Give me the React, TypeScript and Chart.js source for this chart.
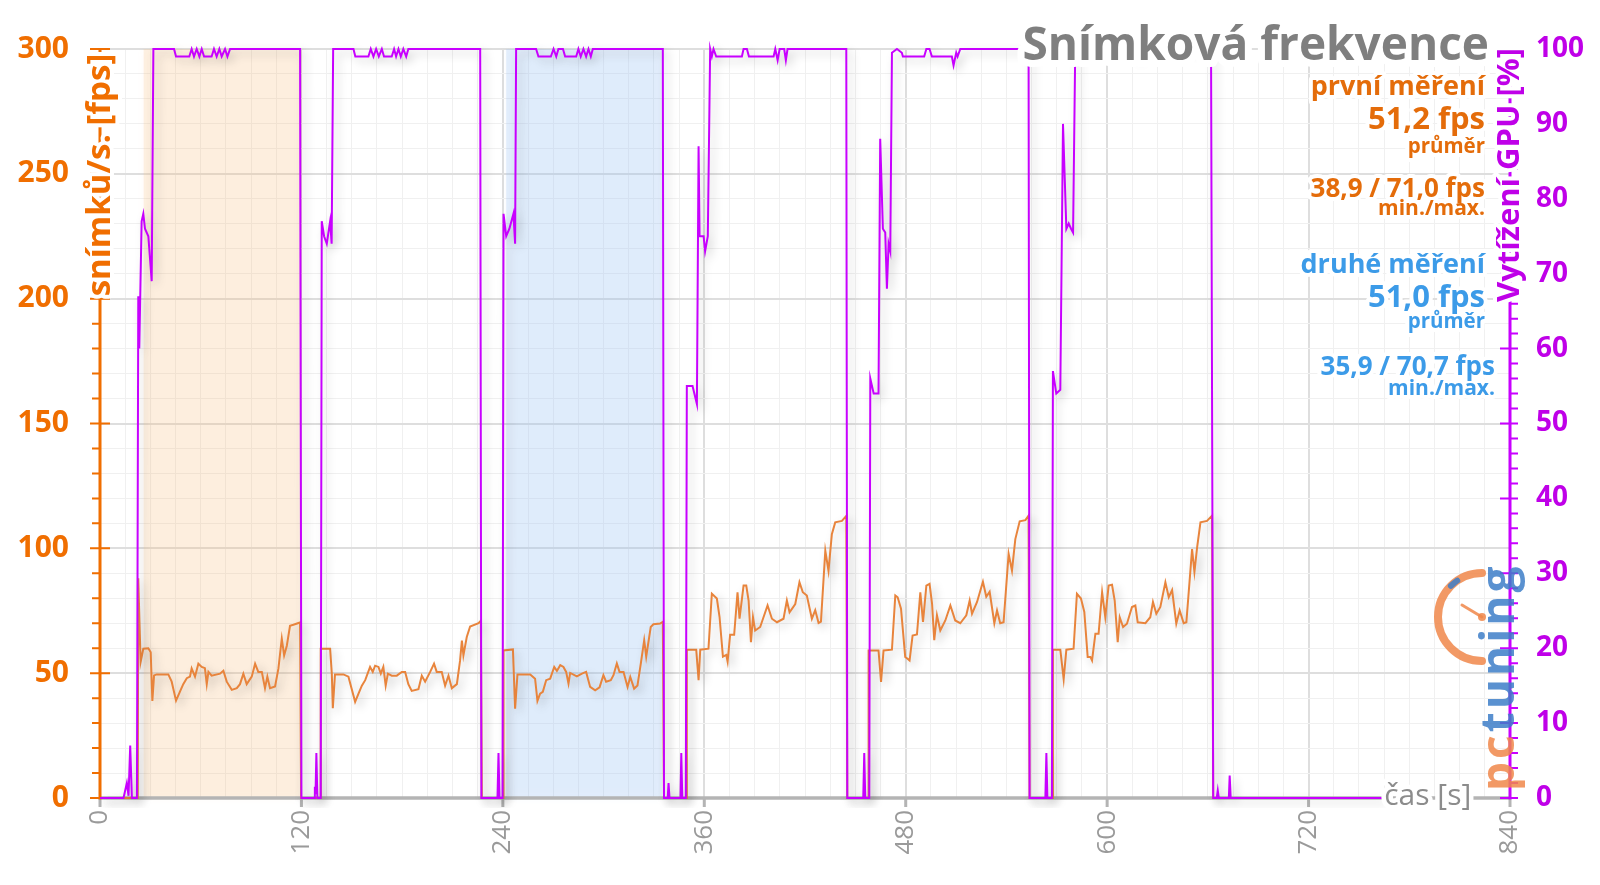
import React, { useEffect, useRef } from 'react';
import { Chart, registerables } from 'chart.js';

Chart.register(...registerables);

// ---------------- data (time in s, value) ----------------
const fpsPoints: [number, number][] = [
  [0, 0], [22.5, 0], [22.8, 88], [24.2, 54.5], [25.8, 59.8], [28.8, 60], [30.2, 58.4], [31.2, 38.9], [32.2, 49.1], [33.8, 49.5],
  [40.7, 49.5], [42.7, 46.6], [45.3, 39], [47.7, 42.7], [49.6, 45.6], [51.7, 48], [53.6, 48.6], [54.6, 51.9], [56.6, 48.6], [58.6, 53.8],
  [60.6, 52.5], [62.5, 52], [63.6, 45.6], [64.6, 50.5], [66.5, 49], [71.5, 49.8], [73.5, 51], [75.5, 46.6], [78.5, 43.3], [81.5, 44],
  [83.4, 45.6], [85.4, 49.8], [87.4, 45.6], [90.4, 48.6], [92.4, 53.8], [94.3, 50.5], [96.4, 50.5], [98.3, 44], [99.7, 48.6], [101.3, 44],
  [104.3, 44.7], [106.3, 51.9], [108.3, 63.8], [109.7, 57.1], [111.3, 61], [113.2, 69], [115.2, 69.4], [119.2, 70.3], [119.8, 0],
  [131.2, 0], [131.5, 59.8], [137.1, 59.8], [138.1, 49.8], [138.7, 36], [140, 49.5], [145, 49.5], [148, 48.6], [152, 38.5], [154, 41.8],
  [156, 45], [158, 47.2], [160.9, 52.5], [162.5, 50.5], [163.9, 53], [165.9, 52.5], [167.3, 49.8], [168.8, 52.5], [170.2, 45], [171.5, 49.8],
  [173.8, 49], [176.8, 49], [179.8, 50.5], [181.8, 50.5], [183.7, 45.6], [185.7, 42.9], [189.7, 43.6], [191.7, 49], [193.7, 46.6], [196.7, 50.5],
  [199, 53.8], [200.6, 50.5], [203.6, 50.5], [205.6, 45], [207.6, 49], [209.6, 44], [212.6, 45.6], [214.5, 55], [215.6, 63], [216.5, 57.1],
  [218.5, 64.5], [220.5, 68.7], [225.5, 70], [226.9, 71], [227.5, 0],
  [240.2, 0], [240.4, 59.1], [246, 59.5], [247.3, 35.8], [248.7, 49.5], [256.3, 49.5], [259.2, 47.8], [260.6, 38.9], [262.2, 41.8], [263.8, 42.5],
  [265.8, 47.2], [268.2, 47.8], [270.6, 52.5], [272.2, 50.9], [274.2, 53.2], [276.1, 52.5], [277.7, 50.5], [279.1, 45.8], [280.1, 50.1], [284.1, 48.7],
  [287.1, 49.8], [289.6, 50.5], [292, 44.5], [295, 43.1], [297.6, 44.3], [299.9, 49.2], [301.5, 46.6], [304.3, 47.2], [305.9, 49.2], [307.9, 53.9],
  [309.5, 50.5], [311.9, 50.5], [314.3, 44.5], [315.9, 48.5], [318.2, 43.8], [320.2, 45.1], [322.2, 53.9], [324.2, 63.2], [325.4, 56.6], [328.1, 68.5],
  [329.7, 69.6], [333.7, 69.9], [335.3, 70.6], [336, 0],
  [349.4, 0], [349.6, 59.4], [355.2, 59.4], [356.6, 47.2], [357.6, 59.4], [362.5, 59.8], [364.5, 81.8], [367.5, 79.9], [369.1, 72.5], [371.1, 56.6],
  [373.1, 57.3], [373.9, 54.6], [375.4, 65.4], [377.8, 65.4], [379.8, 82.4], [381, 71.8], [383.4, 85.1], [385, 85.1], [386.4, 79.1], [387.8, 62.4],
  [389, 72.5], [390.3, 67.1], [393.3, 68.5], [397.7, 77.1], [400.3, 71.8], [403.3, 70.4], [407.2, 71.8], [409.2, 79.1], [410.8, 74.4], [414.2, 77.7],
  [416.7, 86.4], [418.7, 82.4], [421.1, 81.1], [424.1, 71.8], [426.1, 75.2], [428.1, 70.1], [429.5, 70.6], [432.1, 99.1], [434, 91], [436, 105.7],
  [438, 110.4], [442, 111], [444.6, 113], [445.2, 0],
  [457.7, 0], [457.9, 59.1], [463.8, 59.1], [465.3, 46.5], [466.8, 59.1], [471.8, 59.4], [473.8, 81.1], [475.2, 80.4], [477.2, 75.8], [479.7, 56.5],
  [481.1, 55.8], [482.3, 55.1], [484.1, 65.1], [486.7, 65.5], [488.7, 82.4], [490.3, 70.5], [492.3, 85.1], [494.2, 85.8], [495.7, 77.8], [497, 63.2],
  [498.6, 73.2], [500.6, 67.1], [503.6, 71.1], [506.6, 77.1], [509.5, 71.1], [512.5, 70], [516.1, 73.2], [518.1, 79.1], [519.5, 73.8], [522.5, 78.5],
  [526, 86.6], [528, 80.6], [530, 82.6], [532.8, 70], [534.4, 75.1], [536.3, 70], [538.3, 70.4], [541.3, 97.8], [543.3, 91.1], [545.3, 103.7],
  [547.9, 110.8], [551.3, 111.3], [553.2, 113.1], [553.8, 0],
  [567.5, 0], [567.7, 59.4], [572.1, 59.4], [574.1, 47.6], [575.7, 59.4], [580, 59.8], [582, 81.8], [584.4, 79.9], [586.4, 74.5], [588.4, 56.5],
  [590, 56.5], [591, 55.1], [593, 65.8], [594.9, 65.8], [597, 82.4], [598.9, 72.4], [600.9, 85.1], [602.9, 85.4], [604.5, 79.1], [606.3, 62.4],
  [607.5, 72.4], [609.5, 68.5], [611.8, 69.8], [614.8, 76.5], [616.8, 77.1], [618.2, 70.4], [622.8, 70], [625.7, 72.4], [627.3, 78.5], [629.3, 73.8],
  [631.7, 76.5], [634.7, 86.4], [636.7, 80.4], [638.7, 83.3], [641.2, 69.8], [643.2, 75.1], [645.6, 70], [647.2, 70.4], [650.6, 99.7], [652, 90.5],
  [653.6, 100.4], [655.6, 110.4], [659.5, 111], [662.5, 113.1], [663.2, 0], [666, 0],
];

const gpuPoints: [number, number][] = [
  [0, 0], [14, 0], [16, 2], [17, 0.3], [18, 7], [19, 0], [22, 0], [22.8, 67], [23.4, 60], [24.8, 77], [25.8, 78], [26.8, 76], [28.8, 75],
  [30.8, 69], [31.8, 100], [44.1, 100], [45.3, 99], [53.2, 99], [54.6, 100], [56, 99], [57.6, 100], [59.2, 99], [60.6, 100], [62, 99],
  [66.5, 99], [67.9, 100], [69.5, 99], [71.1, 100], [72.5, 99], [74.5, 100], [75.9, 99], [77.5, 100], [119.2, 100], [120, 0],
  [127.5, 0], [128, 1.5], [128.4, 0.5], [128.9, 6], [129.5, 0], [131.5, 0], [132.1, 77], [133.5, 75], [135.1, 74], [137.1, 77], [138, 74],
  [138.9, 100], [151, 100], [152.1, 99], [159.9, 99], [161.3, 100], [162.9, 99], [164.5, 100], [166.1, 99], [167.9, 100], [169.2, 99],
  [173.8, 99], [175.2, 100], [176.4, 99], [177.8, 100], [179.2, 99], [180.7, 100], [182.4, 99], [183.7, 100], [226.5, 100], [227.2, 0],
  [236.8, 0], [237.4, 6], [238, 0], [239.8, 0], [240.4, 78], [242, 75], [243.9, 76], [246.3, 78], [247.3, 74], [247.9, 100],
  [259.8, 100], [261.2, 99], [268.6, 99], [270.2, 100], [271.8, 99], [273.1, 100], [275.8, 100], [277.1, 99], [283.7, 99], [285, 100],
  [286.4, 99], [288, 100], [289.6, 99], [291, 100], [292.4, 99], [293.6, 100], [335.3, 100], [336, 0],
  [338.2, 0], [338.7, 2], [339.3, 0], [345.8, 0], [346.3, 6], [346.9, 0], [349, 0], [349.6, 55], [353, 55], [355.6, 52.6], [356.6, 87],
  [357.2, 75], [359.6, 75], [360.5, 73], [362.1, 75], [363.5, 100], [364.5, 99], [365.5, 100], [367.1, 99], [382.4, 99], [383.4, 100],
  [385.4, 100], [386.6, 99], [401.3, 99], [402.3, 100], [403.7, 98.5], [404.9, 100], [407.6, 100], [408.6, 98.5], [409.6, 100], [444.6, 100], [445.2, 0],
  [454.7, 0], [455.3, 6], [455.9, 0], [458.3, 0], [458.9, 56], [460.9, 54], [463.8, 54], [464.8, 88], [466.4, 76], [467.8, 75.5], [468.8, 68],
  [469.8, 74], [470.8, 73], [471.8, 99.5], [474.8, 100], [477.7, 99.5], [478.3, 99], [491, 99], [492.3, 100], [494.2, 100], [495.6, 99],
  [507.5, 99], [508.5, 97.8], [510.1, 99.5], [510.9, 99], [512.5, 100], [553.2, 100], [553.8, 0],
  [563.2, 0], [563.8, 6], [564.4, 0], [567.1, 0], [567.7, 57], [569.7, 54], [572.1, 54.5], [573.7, 90], [575.7, 76], [577.1, 76.7],
  [578.5, 76], [579.7, 75.5], [581, 100], [617, 100], [617.8, 99], [618.6, 100], [661.9, 100], [663.2, 0], [665.3, 0], [665.9, 1],
  [666.5, 0], [672.5, 0], [673, 3], [673.6, 0], [764, 0],
];

const xTickLabels = [0, 120, 240, 360, 480, 600, 720, 840];
const fpsTickLabels = [0, 50, 100, 150, 200, 250, 300];
const gpuTickLabels = [0, 10, 20, 30, 40, 50, 60, 70, 80, 90, 100];

const bandStarts = [26, 242];
const bandEnds = [120, 335];

const chartTitle = 'Snímková frekvence';
const fpsAxisTitle = 'snímků/s. [fps]';
const gpuAxisTitle = 'Vytížení GPU [%]';
const timeAxisTitle = 'čas [s]';
const firstRunTexts = ['první měření', '51,2 fps', 'průměr', '38,9 / 71,0 fps', 'min./max.'];
const secondRunTexts = ['druhé měření', '51,0 fps', 'průměr', '35,9 / 70,7 fps', 'min./max.'];

// ---------------- styles ----------------
const FONT = '"Open Sans", "Noto Sans", sans-serif';
const FPS_LINE = '#e8843c';
const GPU_LINE = '#c800ff';
const FPS_AXIS = '#f06e00';
const GPU_AXIS = '#c800ff';
const GPU_LABEL = '#bf00e8';
const ORANGE_TEXT = '#e46c0a';
const BLUE_TEXT = '#3c9be8';
const GRAY = '#8c8c8c';
const BAND_COLORS = ['rgba(248,195,140,0.24)', 'rgba(150,190,245,0.25)'];

const shadowPlugin = {
  id: 'lineShadow',
  beforeDatasetDraw(chart: any) {
    const c = chart.ctx;
    c.save();
    c.shadowColor = 'rgba(0,0,0,0.22)';
    c.shadowBlur = 10;
    c.shadowOffsetX = 4;
    c.shadowOffsetY = 4;
  },
  afterDatasetDraw(chart: any) {
    chart.ctx.restore();
  },
};

const underlayPlugin = {
  id: 'underlay',
  beforeDatasetsDraw(chart: any) {
    const { ctx, chartArea: a, scales } = chart;
    const xs = scales.x, ys = scales.y, y2 = scales.y2;
    ctx.save();
    bandStarts.forEach((s, i) => {
      const x0 = xs.getPixelForValue(s);
      const x1 = xs.getPixelForValue(bandEnds[i]);
      ctx.save();
      ctx.shadowColor = BAND_COLORS[i];
      ctx.shadowBlur = 8;
      ctx.fillStyle = BAND_COLORS[i];
      ctx.fillRect(x0, a.top, x1 - x0, a.bottom - a.top);
      ctx.restore();
    });
    // x axis
    ctx.strokeStyle = '#b4b4b4';
    ctx.lineWidth = 3.5;
    ctx.beginPath();
    ctx.moveTo(a.left, a.bottom);
    ctx.lineTo(a.right, a.bottom);
    ctx.stroke();
    ctx.lineWidth = 3;
    xTickLabels.forEach((v) => {
      const px = xs.getPixelForValue(v);
      ctx.beginPath();
      ctx.moveTo(px, a.bottom);
      ctx.lineTo(px, a.bottom + 9);
      ctx.stroke();
    });
    // left axis
    ctx.strokeStyle = FPS_AXIS;
    ctx.lineWidth = 3;
    ctx.beginPath();
    ctx.moveTo(a.left, a.top);
    ctx.lineTo(a.left, a.bottom + 1.5);
    ctx.stroke();
    ctx.lineWidth = 2;
    ctx.beginPath();
    ys.ticks.forEach((t: any) => {
      const py = ys.getPixelForValue(t.value);
      const major = fpsTickLabels.includes(t.value);
      ctx.moveTo(a.left - (major ? 10 : 8), py);
      ctx.lineTo(a.left + (major ? 10 : 0), py);
    });
    ctx.stroke();
    // right axis
    ctx.strokeStyle = GPU_AXIS;
    ctx.lineWidth = 3;
    ctx.beginPath();
    ctx.moveTo(a.right, a.top);
    ctx.lineTo(a.right, a.bottom + 1.5);
    ctx.stroke();
    ctx.lineWidth = 2;
    ctx.beginPath();
    y2.ticks.forEach((t: any) => {
      const py = y2.getPixelForValue(t.value);
      const major = gpuTickLabels.includes(t.value);
      ctx.moveTo(a.right - (major ? 10 : 0), py);
      ctx.lineTo(a.right + 8, py);
    });
    ctx.stroke();
    ctx.restore();
  },
};

function halo(ctx: CanvasRenderingContext2D, text: string, x: number, y: number, w: number) {
  ctx.save();
  ctx.strokeStyle = '#ffffff';
  ctx.lineWidth = w;
  ctx.lineJoin = 'round';
  ctx.strokeText(text, x, y);
  ctx.restore();
}

const overlayPlugin = {
  id: 'overlay',
  afterDraw(chart: any) {
    const { ctx, chartArea: a, scales } = chart;
    const xs = scales.x;
    ctx.save();

    // left axis title
    ctx.save();
    ctx.translate(a.left + 1, 175);
    ctx.rotate(-Math.PI / 2);
    ctx.font = `bold 33px ${FONT}`;
    ctx.textAlign = 'center';
    ctx.textBaseline = 'middle';
    halo(ctx, fpsAxisTitle, 0, 0, 8);
    ctx.fillStyle = FPS_AXIS;
    ctx.fillText(fpsAxisTitle, 0, 0);
    ctx.restore();

    // right axis title
    ctx.save();
    ctx.translate(a.right, 175);
    ctx.rotate(-Math.PI / 2);
    ctx.font = `bold 31px ${FONT}`;
    ctx.textAlign = 'center';
    ctx.textBaseline = 'middle';
    halo(ctx, gpuAxisTitle, 0, 0, 8);
    ctx.fillStyle = GPU_LABEL;
    ctx.fillText(gpuAxisTitle, 0, 0);
    ctx.restore();

    // x axis title
    ctx.font = `30px ${FONT}`;
    ctx.textAlign = 'center';
    ctx.textBaseline = 'middle';
    const tx = xs.getPixelForValue(791);
    halo(ctx, timeAxisTitle, tx, a.bottom - 2, 9);
    ctx.fillStyle = GRAY;
    ctx.fillText(timeAxisTitle, tx, a.bottom - 2);

    // chart title
    ctx.textBaseline = 'alphabetic';
    ctx.textAlign = 'right';
    ctx.font = `bold 46px ${FONT}`;
    halo(ctx, chartTitle, 1489, 60, 14);
    ctx.fillStyle = '#7f7f7f';
    ctx.fillText(chartTitle, 1489, 60);

    // summaries
    const sizes = [27, 31, 20.5, 26, 21];
    const base1 = [95, 129, 153, 197, 215];
    const base2 = [273, 307, 328, 375, 395];
    const right1 = [1485, 1485, 1485, 1485, 1485];
    const right2 = [1485, 1485, 1485, 1495, 1495];
    const items: { t: string; s: number; y: number; x: number; c: string }[] = [];
    firstRunTexts.forEach((t, i) => items.push({ t, s: sizes[i], y: base1[i], x: right1[i], c: ORANGE_TEXT }));
    secondRunTexts.forEach((t, i) => items.push({ t, s: sizes[i], y: base2[i], x: right2[i], c: BLUE_TEXT }));
    items.forEach((it) => {
      ctx.font = `bold ${it.s}px ${FONT}`;
      halo(ctx, it.t, it.x, it.y, 8);
    });
    items.forEach((it) => {
      ctx.font = `bold ${it.s}px ${FONT}`;
      ctx.fillStyle = it.c;
      ctx.fillText(it.t, it.x, it.y);
    });

    // logo (watermark)
    ctx.save();
    ctx.globalAlpha = 0.85;
    const cx = 1482, cy = 617;
    ctx.lineCap = 'round';
    ctx.strokeStyle = '#f0874a';
    ctx.lineWidth = 8;
    ctx.beginPath();
    ctx.arc(cx, cy, 44, Math.PI * 0.5, Math.PI * 1.5);
    ctx.stroke();
    ctx.strokeStyle = '#3d7ec8';
    ctx.lineWidth = 6;
    ctx.beginPath();
    ctx.arc(cx, cy, 44, Math.PI * 1.25, Math.PI * 1.31);
    ctx.stroke();
    ctx.strokeStyle = '#f0874a';
    ctx.lineWidth = 3;
    ctx.beginPath();
    ctx.moveTo(cx, cy);
    ctx.lineTo(cx - 20, cy - 12);
    ctx.stroke();
    ctx.fillStyle = '#f0874a';
    ctx.beginPath();
    ctx.arc(cx, cy, 4, 0, Math.PI * 2);
    ctx.fill();
    ctx.translate(1514, 791);
    ctx.rotate(-Math.PI / 2);
    ctx.font = `bold 46px ${FONT}`;
    ctx.textAlign = 'left';
    ctx.textBaseline = 'alphabetic';
    (ctx as any).letterSpacing = '3px';
    ctx.fillStyle = '#f0874a';
    ctx.fillText('pc', 0, 0);
    const w = ctx.measureText('pc').width;
    ctx.fillStyle = '#3d7ec8';
    ctx.fillText('tuning', w, 0);
    ctx.restore();

    ctx.restore();
  },
};

export default function App() {
  const ref = useRef<HTMLCanvasElement | null>(null);

  useEffect(() => {
    if (!ref.current) return;
    const gridColor = (c: any, major: (v: number) => boolean) =>
      c.tick && major(c.tick.value) ? '#dedede' : '#f0f0f0';
    const gridWidth = (c: any, major: (v: number) => boolean) =>
      c.tick && major(c.tick.value) ? 2 : 1;
    const isX = (v: number) => xTickLabels.includes(v);
    const isY = (v: number) => fpsTickLabels.includes(v);

    const chart = new Chart(ref.current, {
      type: 'line',
      data: {
        datasets: [
          {
            label: 'Vytížení GPU',
            data: gpuPoints.map(([x, y]) => ({ x, y })),
            yAxisID: 'y2',
            borderColor: GPU_LINE,
            borderWidth: 2,
            pointRadius: 0,
            tension: 0,
            order: 0,
            clip: 10,
          } as any,
          {
            label: 'FPS',
            data: fpsPoints.map(([x, y]) => ({ x, y })),
            yAxisID: 'y',
            borderColor: FPS_LINE,
            borderWidth: 2,
            pointRadius: 0,
            tension: 0,
            order: 1,
            clip: 10,
          } as any,
        ],
      },
      options: {
        animation: false,
        responsive: false,
        maintainAspectRatio: false,
        layout: { padding: { top: 47, left: 0, right: 0, bottom: 0 } },
        plugins: { legend: { display: false }, tooltip: { enabled: false } },
        scales: {
          x: {
            type: 'linear',
            min: 0,
            max: 840,
            border: { display: false },
            grid: {
              color: (c: any) => gridColor(c, isX),
              lineWidth: (c: any) => gridWidth(c, isX),
              drawTicks: false,
            },
            ticks: {
              stepSize: 15,
              autoSkip: false,
              minRotation: 90,
              maxRotation: 90,
              padding: 12,
              color: '#9a9a9a',
              font: { family: FONT, size: 26 },
              callback: (v: any) => (xTickLabels.includes(Number(v)) ? String(v) : ''),
            },
            afterFit: (s: any) => { s.height = 87; },
          },
          y: {
            type: 'linear',
            position: 'left',
            min: 0,
            max: 300,
            border: { display: false },
            grid: {
              color: (c: any) => gridColor(c, isY),
              lineWidth: (c: any) => gridWidth(c, isY),
              drawTicks: false,
            },
            ticks: {
              stepSize: 10,
              autoSkip: false,
              padding: 31,
              color: FPS_AXIS,
              font: { family: FONT, size: 30, weight: 'bold' },
              callback: (v: any) => (fpsTickLabels.includes(Number(v)) ? String(v) : ''),
            },
            afterFit: (s: any) => { s.width = 100; },
          },
          y2: {
            type: 'linear',
            position: 'right',
            min: 0,
            max: 100,
            border: { display: false },
            grid: { display: false, drawTicks: false },
            ticks: {
              stepSize: 2,
              autoSkip: false,
              padding: 26,
              color: GPU_LABEL,
              font: { family: FONT, size: 28, weight: 'bold' },
              callback: (v: any) => (gpuTickLabels.includes(Number(v)) ? String(v) : ''),
            },
            afterFit: (s: any) => { s.width = 90; },
          },
        },
      } as any,
      plugins: [underlayPlugin, shadowPlugin, overlayPlugin],
    });
    return () => chart.destroy();
  }, []);

  return (
    <div style={{ position: 'fixed', left: 0, top: 0, width: 1600, height: 885, background: '#ffffff' }}>
      <canvas ref={ref} width={1600} height={885} style={{ display: 'block' }} />
    </div>
  );
}
